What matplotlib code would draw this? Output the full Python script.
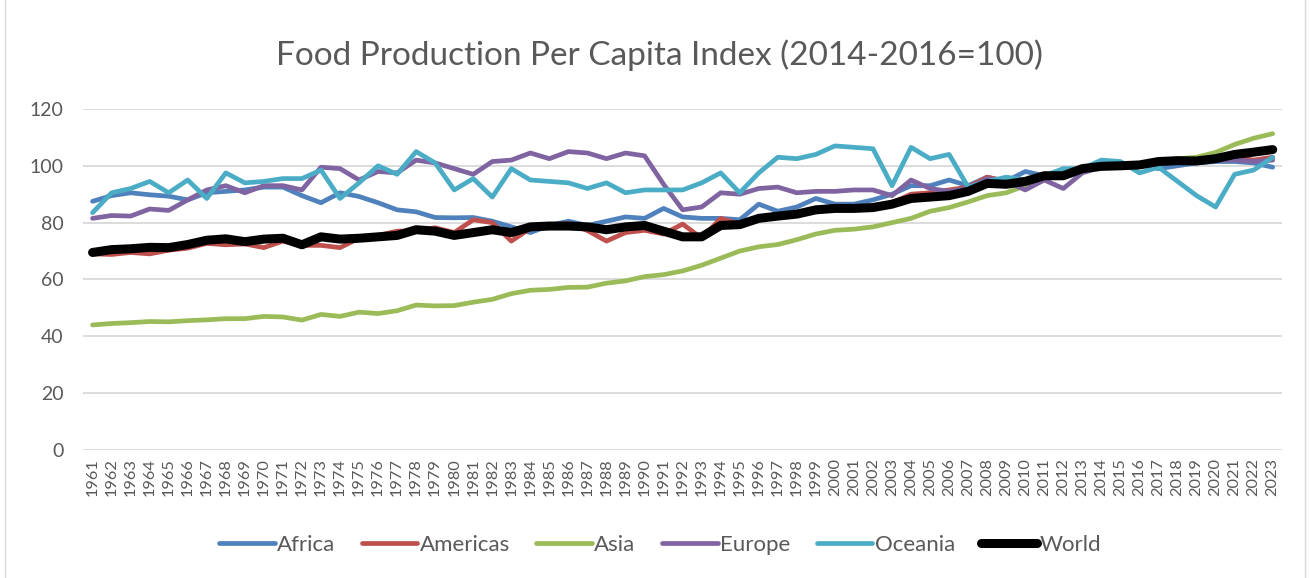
import matplotlib
matplotlib.use('Agg')
import matplotlib.pyplot as plt
from matplotlib.patches import Rectangle

years = list(range(1961, 2024))

africa = [87.5, 89.5, 90.5, 89.8, 89.3, 88, 90.5, 91, 91.5, 92.5,
          92.5, 89.5, 87, 90.5, 89.2, 87, 84.5, 83.8, 81.8, 81.7,
          81.8, 80.5, 78.5, 76.5, 79, 80.5, 79, 80.5, 82, 81.5,
          85, 82, 81.5, 81.5, 81, 86.5, 84, 85.5, 88.5, 86.5,
          86.5, 88, 90, 93, 93, 95, 93, 96, 94.5, 98,
          96.5, 96, 98, 100, 100.5, 100.5, 99, 100, 101, 101.5,
          101.5, 101, 99.5]

americas = [69, 68.8, 69.5, 69, 70.3, 71, 72.7, 72.2, 72.5, 71.2,
            73.5, 72, 72, 71.2, 74.5, 75.5, 77, 77, 78.2, 76.5,
            81, 80, 73.5, 78, 79, 79.7, 77.2, 73.5, 76.5, 77.3,
            76, 79.5, 74.5, 81.5, 79.5, 82, 82, 83, 84.5, 85,
            85, 86, 87, 90, 90.5, 91.5, 92.5, 96, 94.5, 95,
            96.5, 97, 98.5, 99.5, 100, 100.5, 102, 102, 102, 102.5,
            103, 102, 103]

asia = [44, 44.5, 44.8, 45.2, 45.1, 45.5, 45.8, 46.2, 46.2, 47,
        46.8, 45.7, 47.7, 47, 48.5, 48, 49, 51, 50.7, 50.8,
        52, 53, 55, 56.2, 56.5, 57.2, 57.3, 58.7, 59.5, 61,
        61.7, 63, 65, 67.5, 70, 71.5, 72.3, 74, 76, 77.3,
        77.7, 78.5, 80, 81.5, 84, 85.3, 87.3, 89.5, 90.5, 93,
        96, 98, 98.8, 99.5, 100, 100.5, 101.5, 102.5, 103, 104.7,
        107.5, 109.7, 111.3]

europe = [81.5, 82.5, 82.3, 84.8, 84.3, 88, 91.5, 93, 90.5, 93,
          93, 91.5, 99.5, 99, 95, 98, 97.5, 102, 101, 99,
          97, 101.5, 102, 104.5, 102.5, 105, 104.5, 102.5, 104.5, 103.5,
          93.5, 84.5, 85.5, 90.5, 90, 92, 92.5, 90.5, 91, 91,
          91.5, 91.5, 89.5, 95, 92, 91, 92, 95.5, 94.5, 91.5,
          95, 92, 97.5, 99.5, 100, 100, 102, 102, 102, 102,
          102, 101.5, 102]

oceania = [83.5, 90.5, 92, 94.5, 90.5, 95, 88.5, 97.5, 94, 94.5,
           95.5, 95.5, 98.5, 88.5, 94, 100, 97, 105, 101, 91.5,
           95.5, 89, 99, 95, 94.5, 94, 92, 94, 90.5, 91.5,
           91.5, 91.5, 94, 97.5, 90.5, 97.5, 103, 102.5, 104, 107,
           106.5, 106, 93, 106.5, 102.5, 104, 92.5, 94.5, 96, 95,
           96.5, 99, 99, 102, 101.5, 97.5, 99.5, 94.5, 89.5, 85.5,
           97, 98.5, 103]

world = [69.5, 70.5, 70.8, 71.3, 71.2, 72.3, 73.8, 74.3, 73.3, 74.2,
         74.5, 72.2, 75, 74.2, 74.5, 75, 75.5, 77.5, 77, 75.5,
         76.5, 77.5, 76.5, 78.5, 78.8, 78.8, 78.5, 77.5, 78.5, 79,
         77, 75, 75, 79, 79.3, 81.5, 82.3, 83, 84.5, 85,
         85, 85.3, 86.5, 88.5, 89, 89.5, 91, 93.8, 93.5, 94.5,
         96.5, 96.5, 99, 99.8, 100, 100.3, 101.5, 101.8, 101.7, 102.5,
         104, 104.8, 105.7]

series = [
    ('Africa', africa, '#4F81BD', 3.4),
    ('Americas', americas, '#C0504D', 3.4),
    ('Asia', asia, '#9BBB59', 3.4),
    ('Europe', europe, '#8064A2', 3.4),
    ('Oceania', oceania, '#4BACC6', 3.4),
    ('World', world, '#000000', 6.5),
]

plt.rcParams['font.family'] = ['Lato', 'DejaVu Sans']
gray = '#595959'

fig = plt.figure(figsize=(13.12, 5.78), dpi=100)
ax = fig.add_axes([0.0633, 0.2215, 0.914, 0.590])

x = list(range(len(years)))
for name, vals, col, lw in series:
    ax.plot(x, vals, color=col, lw=lw, label=name, solid_capstyle='round',
            solid_joinstyle='round', zorder=3)

ax.set_xlim(-0.5, len(years) - 0.5)
ax.set_ylim(0, 120)
ax.set_yticks(range(0, 121, 20))
ax.set_xticks(x)
ax.set_xticklabels([str(y) for y in years], rotation=90, fontsize=11.8, color=gray)
ax.tick_params(axis='y', labelsize=14, colors=gray, length=0, pad=14)
ax.tick_params(axis='x', length=0, pad=6)
ax.grid(axis='y', color='#d9d9d9', lw=1.3, zorder=0)
for s in ax.spines.values():
    s.set_visible(False)

fig.text(0.503, 0.905, 'Food Production Per Capita Index (2014-2016=100)',
         ha='center', va='center', fontsize=24, color=gray)

fig.legend(loc='center', bbox_to_anchor=(0.503, 0.057), ncol=6, frameon=False,
           fontsize=16, handlelength=2.5, handletextpad=0.1, columnspacing=1.2,
           labelcolor=gray)

fig.patches.append(Rectangle((0.004, -0.01), 0.991, 1.02, transform=fig.transFigure,
                             fill=False, edgecolor='#d9d9d9', lw=1))

fig.savefig('out.png', dpi=100)
